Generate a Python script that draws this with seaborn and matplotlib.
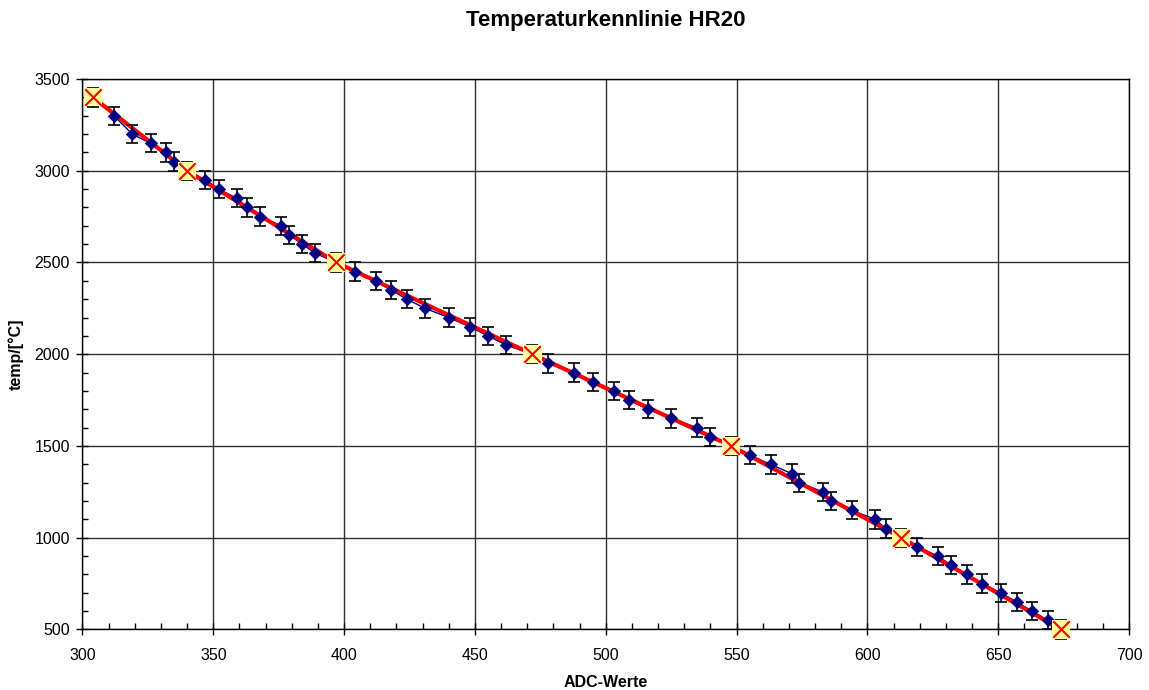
import numpy as np
import pandas as pd
import seaborn as sns
import matplotlib.pyplot as plt
from matplotlib.ticker import MultipleLocator

# Messwerte (ADC -> Temperatur), 3250 fehlt in der Messreihe
temp_mess = [3400, 3300, 3200, 3150, 3100, 3050, 3000, 2950, 2900, 2850,
             2800, 2750, 2700, 2650, 2600, 2550, 2500, 2450, 2400, 2350,
             2300, 2250, 2200, 2150, 2100, 2050, 2000, 1950, 1900, 1850,
             1800, 1750, 1700, 1650, 1600, 1550, 1500, 1450, 1400, 1350,
             1300, 1250, 1200, 1150, 1100, 1050, 1000, 950, 900, 850,
             800, 750, 700, 650, 600, 550, 500]
adc_mess = [304, 312, 319, 326, 332, 335, 340, 347, 352, 359,
            363, 368, 376, 379, 384, 389, 397, 404, 412, 418,
            424, 431, 440, 448, 455, 462, 472, 478, 488, 495,
            503, 509, 516, 525, 535, 540, 548, 555, 563, 571,
            574, 583, 586, 594, 603, 607, 613, 619, 627, 632,
            638, 644, 651, 657, 663, 669, 674]
fehler = 50

# Stützpunkte der Kennlinie
temp_kenn = [3400, 3000, 2500, 2000, 1500, 1000, 500]
adc_kenn = [304, 340, 397, 472, 548, 613, 674]

df_mess = pd.DataFrame({"ADC": adc_mess, "temp": temp_mess})
df_kenn = pd.DataFrame({"ADC": adc_kenn, "temp": temp_kenn})

sns.set_style("white")
plt.rcParams['font.family'] = ['Liberation Sans', 'DejaVu Sans']
plt.rcParams['text.color'] = 'black'
plt.rcParams['axes.labelcolor'] = 'black'
plt.rcParams['xtick.color'] = 'black'
plt.rcParams['ytick.color'] = 'black'

fig = plt.figure(figsize=(11.49, 6.9), dpi=100)
ax = fig.add_axes([0.0718, 0.0877, 0.9108, 0.7978])

# Linien
sns.lineplot(data=df_mess, x="ADC", y="temp", sort=False, color="#000080",
             linewidth=1, ax=ax, zorder=2)
sns.lineplot(data=df_kenn, x="ADC", y="temp", sort=False, color="#FF0000",
             linewidth=3, ax=ax, zorder=3)

# Fehlerbalken und Messpunkte
ax.errorbar(df_mess["ADC"], df_mess["temp"], yerr=fehler, fmt="none",
            ecolor="black", elinewidth=1.2, capsize=4.5, capthick=1.2,
            zorder=4, clip_on=False)
sns.scatterplot(data=df_mess, x="ADC", y="temp", marker="D", color="#000080",
                s=40, edgecolor="#000080", ax=ax, zorder=5, clip_on=False)

# Stützpunkte: gelbes Quadrat mit rotem Kreuz
ax.scatter(df_kenn["ADC"], df_kenn["temp"], marker="s", s=170,
           color="#FFFF99", edgecolor="none", zorder=6, clip_on=False)
ax.scatter(df_kenn["ADC"], df_kenn["temp"], marker="x", s=140,
           color="#FF0000", linewidths=1.5, zorder=7, clip_on=False)

# Achsen
ax.set_xlim(300, 700)
ax.set_ylim(500, 3500)
ax.xaxis.set_major_locator(MultipleLocator(50))
ax.xaxis.set_minor_locator(MultipleLocator(10))
ax.yaxis.set_major_locator(MultipleLocator(500))
ax.yaxis.set_minor_locator(MultipleLocator(100))
ax.tick_params(which="major", direction="inout", length=8, width=1,
               labelsize=11.5, bottom=True, left=True)
ax.tick_params(axis="x", which="major", pad=9)
ax.tick_params(axis="y", which="major", pad=5)
ax.tick_params(which="minor", direction="in", length=4, width=1,
               bottom=True, left=True)
ax.grid(True, which="major", color="#303030", linewidth=1)
for s in ax.spines.values():
    s.set_color("black")
    s.set_linewidth(1)

ax.set_title("Temperaturkennlinie HR20", fontsize=16, fontweight="bold", pad=38)
ax.set_xlabel("ADC-Werte", fontsize=11.5, fontweight="bold", labelpad=9)
ax.set_ylabel("temp/[°C]", fontsize=11.5, fontweight="bold", labelpad=8)

plt.savefig("out.png", dpi=100)
